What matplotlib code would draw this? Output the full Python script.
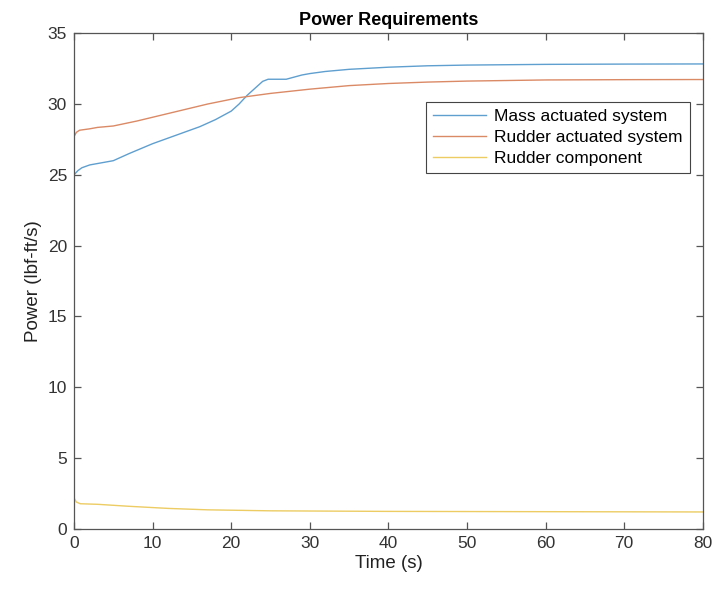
import matplotlib
matplotlib.use('Agg')
import matplotlib.pyplot as plt
import numpy as np

plt.rcParams['font.family'] = ['Liberation Sans', 'DejaVu Sans']

# time samples (s) and read-off values (lbf-ft/s)
t_mass = [0, 0.5, 1, 2, 3, 5, 7, 10, 13, 16, 18, 20, 21, 22, 23, 24, 24.7, 25.5, 27, 28, 29, 30, 32, 35, 40, 45, 50, 60, 70, 80]
p_mass = [25.0, 25.3, 25.5, 25.7, 25.8, 26.0, 26.5, 27.2, 27.8, 28.4, 28.9, 29.5, 30.0, 30.6, 31.1, 31.6, 31.75, 31.75, 31.75, 31.9, 32.05, 32.15, 32.3, 32.45, 32.6, 32.7, 32.75, 32.8, 32.82, 32.83]

t_rudder = [0, 0.3, 0.7, 2, 3, 5, 8, 11, 14, 17, 21, 25, 30, 35, 40, 45, 50, 60, 70, 80]
p_rudder = [27.7, 28.0, 28.15, 28.25, 28.35, 28.45, 28.8, 29.2, 29.6, 30.0, 30.45, 30.75, 31.05, 31.3, 31.45, 31.55, 31.62, 31.7, 31.72, 31.73]

t_comp = [0, 0.3, 0.8, 3, 7, 12, 17, 25, 40, 60, 80]
p_comp = [2.2, 1.9, 1.78, 1.74, 1.6, 1.45, 1.35, 1.28, 1.24, 1.22, 1.2]

labels = ['Mass actuated system', 'Rudder actuated system', 'Rudder component']
colors = ['#5f9fcf', '#db8a66', '#eccc63']

fig = plt.figure(figsize=(7.15, 5.93), dpi=100)
ax = fig.add_axes([0.1035, 0.108, 0.8795, 0.836])

ax.plot(t_mass, p_mass, color=colors[0], linewidth=1.0, label=labels[0])
ax.plot(t_rudder, p_rudder, color=colors[1], linewidth=1.0, label=labels[1])
ax.plot(t_comp, p_comp, color=colors[2], linewidth=1.0, label=labels[2])

ax.set_xlim(0, 80)
ax.set_ylim(0, 35)
ax.set_xticks(np.arange(0, 81, 10))
ax.set_yticks(np.arange(0, 36, 5))

for s in ax.spines.values():
    s.set_color('#555555')
    s.set_linewidth(0.9)
ax.tick_params(direction='in', top=True, right=True, length=5, width=0.9,
               colors='#555555', labelcolor='#333333', labelsize=12.5, pad=5)

ax.set_title('Power Requirements', fontsize=13, fontweight='bold', pad=6)
ax.set_xlabel('Time (s)', fontsize=13.5, color='#222222', labelpad=3)
ax.set_ylabel('Power (lbf-ft/s)', fontsize=13.5, color='#222222')

leg = ax.legend(loc='upper right', bbox_to_anchor=(0.979, 0.861), fontsize=12.5,
                fancybox=False, framealpha=1, edgecolor='#444444', borderaxespad=0,
                handlelength=3.0, borderpad=0.4, labelspacing=0.32, handletextpad=0.5)
leg.get_frame().set_linewidth(0.8)

fig.savefig('out.png', dpi=100)
